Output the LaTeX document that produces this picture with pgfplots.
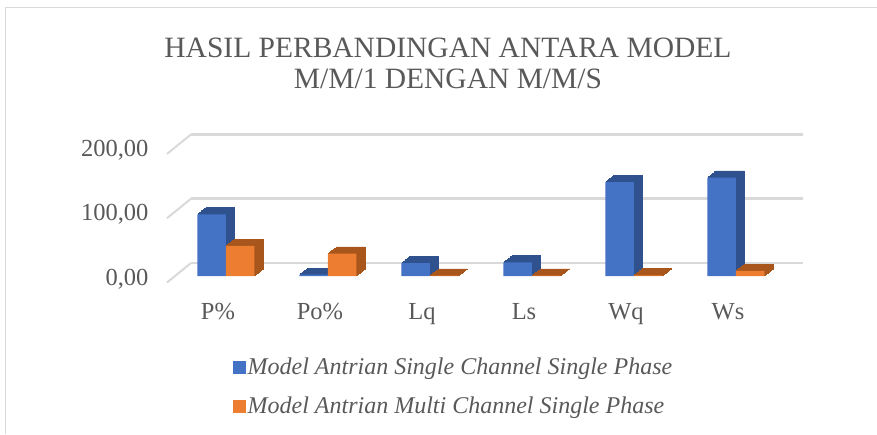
\documentclass[border=0pt]{standalone}
\usepackage{pgfplots}
\pgfplotsset{compat=1.18}
\usepackage{fontspec}
\setmainfont{Liberation Serif}
\definecolor{blueA}{HTML}{4472C4}
\definecolor{blueD}{HTML}{2F528F}
\definecolor{orangeA}{HTML}{ED7D31}
\definecolor{orangeD}{HTML}{A9561D}
\definecolor{txt}{HTML}{595959}
\definecolor{gridc}{HTML}{D9D9D9}
\tikzset{
  ex/.style 2 args={preaction={fill=#1, draw=#1, line width=0.6pt, transform canvas={shift={(#2)}}}},
  extrude/.style={
    ex={#1}{0.75pt,0.58pt}, ex={#1}{1.5pt,1.17pt}, ex={#1}{2.25pt,1.75pt},
    ex={#1}{3pt,2.33pt}, ex={#1}{3.75pt,2.92pt}, ex={#1}{4.5pt,3.5pt},
    ex={#1}{5.25pt,4.08pt}, ex={#1}{6pt,4.67pt}, ex={#1}{6.75pt,5.25pt},
    ex={#1}{7.5pt,5.83pt}, ex={#1}{8.25pt,6.42pt}, ex={#1}{8.7pt,6.7pt}
  }
}
\begin{document}
\begin{tikzpicture}[x=1pt,y=1pt]
\path[use as bounding box] (0,0) rectangle (877,434);
\draw[gridc, line width=1pt] (5,0) -- (5,426) -- (877,426);
\node[txt, align=center, font=\fontsize{29.5}{31}\selectfont] at (448,371) {HASIL PERBANDINGAN ANTARA MODEL\\M/M/1 DENGAN M/M/S};
\begin{axis}[
  at={(167pt,158pt)}, anchor=south west,
  scale only axis, width=612pt, height=128.6pt,
  xmin=-0.5, xmax=5.5, ymin=0, ymax=200,
  clip=false,
  axis line style={draw=none},
  major tick length=0pt,
  xtick={0,1,2,3,4,5},
  xticklabels={P\%, Po\%, Lq, Ls, Wq, Ws},
  ytick={0,100,200},
  /pgf/number format/assume math mode=true,
  yticklabel={\pgfmathprintnumber[fixed,fixed zerofill,precision=2,use comma]{\tick}},
  ticklabel style={font=\fontsize{24.5}{26}\selectfont, text=txt},
  xticklabel style={yshift=-24pt},
  yticklabel style={xshift=-15pt, yshift=-3pt},
  ymajorgrids,
  major grid style={line width=2.5pt, draw=gridc, xshift=24pt, yshift=13pt},
  legend style={at={(0.103,-0.605)}, anchor=north west, draw=none, fill=none,
    font=\fontsize{24}{26}\selectfont\itshape, text=txt, row sep=17pt,
    nodes={inner sep=2pt}},
  legend cell align=left,
]
\foreach \v in {0,100,200} {
  \edef\tmp{\noexpand\draw[gridc, line width=2pt] ([yshift=-6.5pt]axis cs:-0.5,\v) -- ([xshift=24pt,yshift=13pt]axis cs:-0.5,\v);}
  \tmp
}
\addlegendimage{legend image code/.code={\fill[blueA] (0pt,-6pt) rectangle (12pt,6pt);}}
\addlegendentry{Model Antrian Single Channel Single Phase}
\addlegendimage{legend image code/.code={\fill[orangeA] (0pt,-6pt) rectangle (12pt,6pt);}}
\addlegendentry{Model Antrian Multi Channel Single Phase}
\addplot[ybar, bar width=28.5pt, bar shift=-6.5pt, fill=blueA, draw=none, extrude=blueD, forget plot]
  coordinates {(0,96) (1,2) (2,20) (3,21) (4,146) (5,153)};
\addplot[ybar, bar width=28.5pt, bar shift=22pt, fill=orangeA, draw=none, extrude=orangeD, forget plot]
  coordinates {(0,47) (1,34.7) (2,0.5) (3,0.5) (4,1) (5,8)};
\end{axis}
\end{tikzpicture}
\end{document}
